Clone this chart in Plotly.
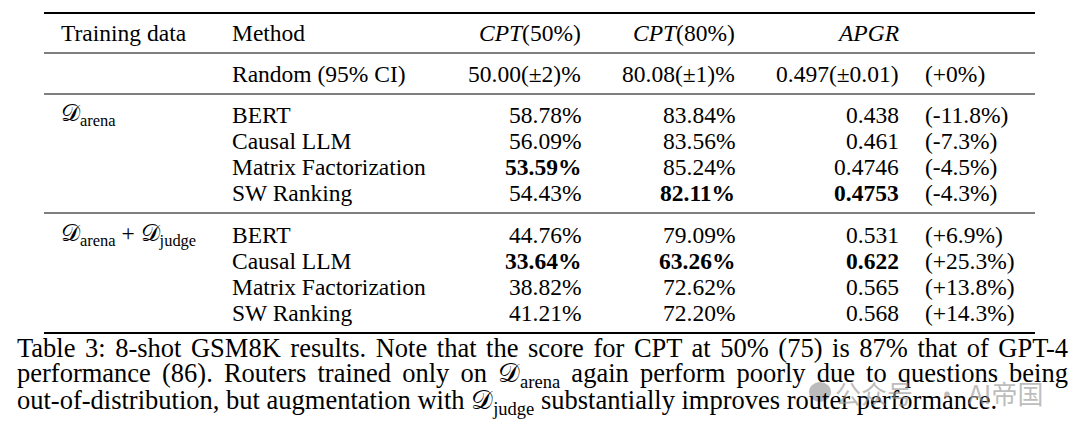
import json
import plotly.graph_objects as go

# ---------------- data ----------------
header = ["Training data", "Method", "<i>CPT</i>(50%)", "<i>CPT</i>(80%)", "<i>APGR</i>"]
groups = ["𝒟<sub>arena</sub>", "𝒟<sub>arena</sub> + 𝒟<sub>judge</sub>"]
methods = ["BERT", "Causal LLM", "Matrix Factorization", "SW Ranking"]

random_label = "Random (95% CI)"
random_cpt50, random_cpt50_ci = 50.00, 2
random_cpt80, random_cpt80_ci = 80.08, 1
random_apgr, random_apgr_ci = 0.497, 0.01
random_delta = 0

cpt50 = [58.78, 56.09, 53.59, 54.43, 44.76, 33.64, 38.82, 41.21]
cpt80 = [83.84, 83.56, 85.24, 82.11, 79.09, 63.26, 72.62, 72.20]
apgr = [0.438, 0.461, 0.4746, 0.4753, 0.531, 0.622, 0.565, 0.568]
delta = [-11.8, -7.3, -4.5, -4.3, 6.9, 25.3, 13.8, 14.3]
bold_cpt50 = [2, 5]
bold_cpt80 = [3, 5]
bold_apgr = [3, 5]

caption = [
    "Table 3: 8-shot GSM8K results. Note that the score for CPT at 50% (75) is 87% that of GPT-4",
    "performance (86). Routers trained only on 𝒟<sub>arena</sub> again perform poorly due to questions being",
    "out-of-distribution, but augmentation with 𝒟<sub>judge</sub> substantially improves router performance.",
]
caption_justified = [True, True, False]
watermark_left = "公众号"
watermark_sep = "·"
watermark_right = "AI帝国"

# ---------------- layout ----------------
FONT = "Liberation Serif, Times New Roman, serif"
FS = 23.5
CFS = 26.5
fig = go.Figure()
ann = []


def add(x, y, text, xanchor="left", size=FS, color="black", family=FONT, align="center"):
    ann.append(dict(x=x, y=y, xref="x", yref="y", text=text, showarrow=False,
                    xanchor=xanchor, yanchor="middle", borderpad=0, borderwidth=0,
                    align=align, font=dict(family=family, size=size, color=color)))
    return len(ann) - 1


def b(s, flag):
    return f"<b>{s}</b>" if flag else s


X_TRAIN, X_METHOD, X_C50, X_C80, X_APGR, X_DELTA = 61, 232, 581, 735, 899, 925

# header
hy = 33
add(X_TRAIN, hy, header[0])
add(X_METHOD, hy, header[1])
add(X_C50, hy, header[2], "right")
add(X_C80, hy, header[3], "right")
add(X_APGR, hy, header[4], "right")

# random row
ry = 74
add(X_METHOD, ry, random_label)
add(X_C50, ry, f"{random_cpt50:.2f}(±{random_cpt50_ci})%", "right")
add(X_C80, ry, f"{random_cpt80:.2f}(±{random_cpt80_ci})%", "right")
add(X_APGR, ry, f"{random_apgr}(±{random_apgr_ci})", "right")
add(X_DELTA, ry, f"(+{random_delta}%)")

row_y = [115, 141, 167, 193, 235, 261, 287, 313]
for g in range(2):
    add(X_TRAIN, row_y[g * 4], groups[g])
    for m in range(4):
        i = g * 4 + m
        y = row_y[i]
        add(X_METHOD, y, methods[m])
        add(X_C50, y, b(f"{cpt50[i]:.2f}%", i in bold_cpt50), "right")
        add(X_C80, y, b(f"{cpt80[i]:.2f}%", i in bold_cpt80), "right")
        add(X_APGR, y, b(f"{apgr[i]}", i in bold_apgr), "right")
        add(X_DELTA, y, f"({delta[i]:+.1f}%)" if delta[i] > 0 else f"({delta[i]:.1f}%)")

# caption (justified lines are stretched to the full width in the browser)
CAP_X0, CAP_X1 = 17, 1068
cap_y = [348, 375, 402]
justify = {}
for line, y, just in zip(caption, cap_y, caption_justified):
    idx = add(CAP_X0, y, line, size=CFS, align="left")
    if just:
        justify[str(idx)] = CAP_X1 - CAP_X0

# watermark
WM = "rgba(150,150,150,0.65)"
add(874, 392, watermark_left, "center", size=26, color=WM, family="Noto Sans CJK SC")
add(947, 392, watermark_sep, "center", size=26, color=WM, family="Noto Sans CJK SC")
add(1005, 392, watermark_right, "center", size=26, color=WM, family="Noto Sans CJK SC")

shapes = []
for y, w in [(13, 2), (53, 1.2), (94, 1.2), (213, 1.2), (333, 2)]:
    shapes.append(dict(type="line", xref="x", yref="y", x0=44, x1=1035, y0=y, y1=y,
                       line=dict(color="black", width=w)))
# watermark icon
shapes.append(dict(type="circle", xref="x", yref="y", x0=809, x1=831, y0=382, y1=402,
                   fillcolor=WM, line=dict(width=0)))

fig.update_layout(
    width=1080, height=437,
    margin=dict(l=0, r=0, t=0, b=0),
    paper_bgcolor="white", plot_bgcolor="white",
    xaxis=dict(range=[0, 1080], visible=False, fixedrange=True),
    yaxis=dict(range=[437, 0], visible=False, fixedrange=True),
    annotations=ann, shapes=shapes, showlegend=False,
)

js = """
document.body.style.margin='0';
document.body.style.overflow='hidden';
var targets = %s;
var gd = document.getElementById('{plot_id}');
gd.querySelectorAll('g.annotation').forEach(function(g){
  var idx = g.getAttribute('data-index');
  if (targets.hasOwnProperty(idx)) {
    var t = g.querySelector('text.annotation-text');
    if (!t) return;
    var n = (t.textContent.match(/ /g) || []).length;
    var w = t.getComputedTextLength();
    if (n > 0 && targets[idx] > w) {
      t.style.wordSpacing = ((targets[idx] - w) / n) + 'px';
    }
  }
});
""" % json.dumps(justify)

fig.write_html("out.html", config={"displayModeBar": False}, post_script=js)
